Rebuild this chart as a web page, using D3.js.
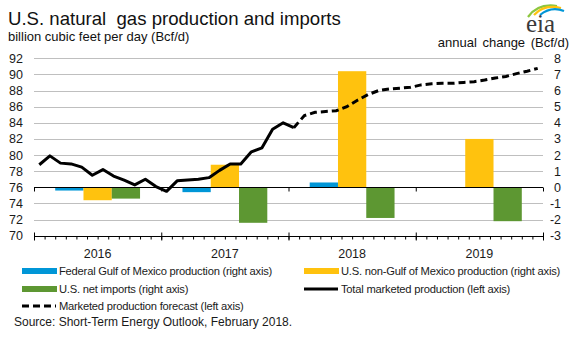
<!DOCTYPE html>
<html>
<head>
<meta charset="utf-8">
<script src="https://cdn.jsdelivr.net/npm/d3@7"></script>
<style>
  body { margin: 0; background: #fff; }
  svg { display: block; font-family: "Liberation Sans", Arial, sans-serif; }
  .grid { stroke: #bfbfbf; stroke-width: 1; }
  .tick-label { font-size: 12.5px; fill: #1a1a1a; }
  .legend-text { font-size: 11.2px; letter-spacing: -0.22px; fill: #1a1a1a; }
</style>
</head>
<body>
<div class="panel"></div>
<script>
// Data

const years = ["2016", "2017", "2018", "2019"];
const seriesNames = ["gulf", "nonGulf", "netImports"];

// annual change, Bcf/d (right axis)
const gulfChange = [-0.2, -0.3, 0.3, 0];
const nonGulfChange = [-0.8, 1.4, 7.2, 3.0];
const netImportsChange = [-0.7, -2.2, -1.9, -2.1];

// monthly marketed production, Bcf/d (left axis), Jan 2016 - Jan 2018
const totalProduction = [78.8, 79.9, 79.0, 78.9, 78.5, 77.5, 78.2, 77.4, 76.9, 76.3, 77.0, 76.1,
                         75.5, 76.8, 76.9, 77.0, 77.2, 78.1, 78.9, 78.9, 80.4, 80.9, 83.2, 84.0,
                         83.4];

// forecast, Jan 2018 - Dec 2019
const forecast = [83.4, 84.9, 85.3, 85.4, 85.5, 86.0, 86.8, 87.5, 88.0, 88.2, 88.3, 88.4,
                  88.7, 88.85, 88.9, 88.9, 89.0, 89.1, 89.3, 89.55, 89.75, 90.1, 90.4, 90.75];
const forecastStart = 24; // month index of Jan 2018

const leftTicks = [70, 72, 74, 76, 78, 80, 82, 84, 86, 88, 90, 92];
const rightTicks = [-3, -2, -1, 0, 1, 2, 3, 4, 5, 6, 7, 8];

const colors = { gulf: "#0096d7", nonGulf: "#ffc20e", netImports: "#5d9732" };

const legendItems = [
    { label: "Federal Gulf of Mexico production (right axis)", type: "bar", color: colors.gulf },
    { label: "U.S. non-Gulf of Mexico production (right axis)", type: "bar", color: colors.nonGulf },
    { label: "U.S. net imports (right axis)", type: "bar", color: colors.netImports },
    { label: "Total marketed production (left axis)", type: "line", dash: null },
    { label: "Marketed production forecast (left axis)", type: "line", dash: "7,4" }
];

// Render chart

const params = { width: 574, height: 338, left: 34, right: 543, top: 58.3, bottom: 235.7 };

const svg = d3.select(".panel").append("svg")
    .attr("width", params.width)
    .attr("height", params.height);

const yLeft = d3.scaleLinear().domain([70, 92]).range([params.bottom, params.top]);
const yRight = d3.scaleLinear().domain([-3, 8]).range([params.bottom, params.top]);
const xMonth = d3.scaleLinear().domain([0, 48]).range([params.left, params.right]);
const xYear = d3.scaleBand().domain(years).range([params.left, params.right]);
const xSeries = d3.scaleBand().domain(seriesNames)
    .range([xYear.bandwidth() / 6, xYear.bandwidth() * 5 / 6]);

// titles
svg.append("text").attr("x", 8).attr("y", 25)
    .style("font-size", "18.6px").style("fill", "#111")
    .style("white-space", "pre")
    .text("U.S. natural  gas production and imports");
svg.append("text").attr("x", 8).attr("y", 40.5)
    .style("font-size", "13px").style("fill", "#111")
    .text("billion cubic feet per day (Bcf/d)");
svg.append("text").attr("x", 569).attr("y", 46.5)
    .attr("text-anchor", "end")
    .style("font-size", "13px").style("fill", "#111")
    .style("word-spacing", "2px")
    .text("annual change (Bcf/d)");

// eia logo
const logo = svg.append("g").attr("transform", "translate(524,0)");
logo.append("path").attr("d", "M4,17 Q14,3 33,6").attr("fill", "none")
    .attr("stroke", "#8dc63f").attr("stroke-width", 2.2);
logo.append("path").attr("d", "M10,15 Q20,4 37,8").attr("fill", "none")
    .attr("stroke", "#ffc20e").attr("stroke-width", 2.2);
logo.append("path").attr("d", "M16,15 Q27,6 40,11").attr("fill", "none")
    .attr("stroke", "#0096d7").attr("stroke-width", 2.2);
logo.append("text").attr("x", 2).attr("y", 31.5)
    .style("font-family", "'Liberation Serif', serif")
    .style("font-size", "25px").style("fill", "#3a3a3a")
    .text("eia");

// gridlines
svg.append("g").selectAll("line")
    .data(leftTicks.filter(d => d !== 70 && d !== 76))
    .join("line")
    .attr("class", "grid")
    .attr("x1", params.left).attr("x2", params.right)
    .attr("y1", d => Math.round(yLeft(d)) + 0.5)
    .attr("y2", d => Math.round(yLeft(d)) + 0.5);

// axis labels
svg.append("g").selectAll("text")
    .data(leftTicks)
    .join("text")
    .attr("class", "tick-label")
    .attr("x", 23).attr("y", d => yLeft(d) + 4.5)
    .attr("text-anchor", "end")
    .text(d => d);

svg.append("g").selectAll("text")
    .data(rightTicks)
    .join("text")
    .attr("class", "tick-label")
    .attr("x", 561).attr("y", d => yRight(d) + 4.5)
    .attr("text-anchor", "end")
    .text(d => d);

// bars
const barData = years.map((y, i) => ({
    year: y,
    values: [
        { key: "gulf", v: gulfChange[i] },
        { key: "nonGulf", v: nonGulfChange[i] },
        { key: "netImports", v: netImportsChange[i] }
    ]
}));

svg.append("g").selectAll("g")
    .data(barData)
    .join("g")
    .attr("transform", d => `translate(${xYear(d.year)},0)`)
    .selectAll("rect")
    .data(d => d.values.filter(v => v.v !== 0))
    .join("rect")
    .attr("x", d => xSeries(d.key))
    .attr("width", xSeries.bandwidth())
    .attr("y", d => yRight(Math.max(0, d.v)))
    .attr("height", d => Math.abs(yRight(d.v) - yRight(0)))
    .attr("fill", d => colors[d.key]);

// zero line with year ticks
const zeroY = Math.round(yRight(0)) + 0.5;
svg.append("g")
    .attr("transform", `translate(0,${zeroY})`)
    .call(d3.axisBottom(xMonth).tickValues([0, 12, 24, 36, 48]).tickSize(4).tickFormat(""))
    .call(g => g.select(".domain").attr("d", `M${params.left},0H${params.right}`))
    .selectAll("path, line").attr("stroke", "#000");

// bottom axis: monthly minor ticks, yearly major ticks
const bottomY = Math.round(params.bottom) + 0.5;
const bottom = svg.append("g").attr("transform", `translate(0,${bottomY})`);
bottom.call(d3.axisBottom(xMonth).tickValues(d3.range(0, 49)).tickSize(3).tickFormat(""))
    .call(g => g.select(".domain").attr("d", `M${params.left},0H${params.right}`));
bottom.append("g")
    .call(d3.axisBottom(xMonth).tickValues([0, 12, 24, 36, 48]).tickSize(4).tickFormat(""))
    .call(g => g.select(".domain").remove())
    .selectAll("line").attr("y1", -4);
bottom.selectAll("path, line").attr("stroke", "#000");

svg.append("g").selectAll("text")
    .data(years)
    .join("text")
    .attr("class", "tick-label")
    .attr("x", d => xYear(d) + xYear.bandwidth() / 2)
    .attr("y", 258)
    .attr("text-anchor", "middle")
    .text(d => d);

// lines
const line = d3.line()
    .x(d => xMonth(d.i + 0.5))
    .y(d => yLeft(d.v));

svg.append("path")
    .datum(totalProduction.map((v, i) => ({ i, v })))
    .attr("d", line)
    .attr("fill", "none")
    .attr("stroke", "#000")
    .attr("stroke-width", 3)
    .attr("stroke-linejoin", "round");

svg.append("path")
    .datum(forecast.map((v, i) => ({ i: i + forecastStart, v })))
    .attr("d", line)
    .attr("fill", "none")
    .attr("stroke", "#000")
    .attr("stroke-width", 3)
    .attr("stroke-dasharray", "7,4");

// legend
const legendPos = [[20, 271], [302, 271], [20, 289], [302, 289], [20, 306]];

const legend = svg.append("g").selectAll("g")
    .data(legendItems)
    .join("g")
    .attr("transform", (d, i) => `translate(${legendPos[i][0]},${legendPos[i][1]})`);

legend.filter(d => d.type === "bar").append("rect")
    .attr("x", 2).attr("y", -3).attr("width", 35).attr("height", 6)
    .attr("fill", d => d.color);

legend.filter(d => d.type === "line").append("line")
    .attr("x1", 2).attr("x2", 36).attr("y1", 0).attr("y2", 0)
    .attr("stroke", "#000").attr("stroke-width", 3)
    .attr("stroke-dasharray", d => d.dash);

legend.append("text")
    .attr("class", "legend-text")
    .attr("x", 39).attr("y", 4)
    .text(d => d.label);

svg.append("text")
    .attr("x", 14).attr("y", 325.5)
    .style("font-size", "12px").style("fill", "#1a1a1a")
    .text("Source: Short-Term Energy Outlook, February 2018.");
</script>
</body>
</html>
